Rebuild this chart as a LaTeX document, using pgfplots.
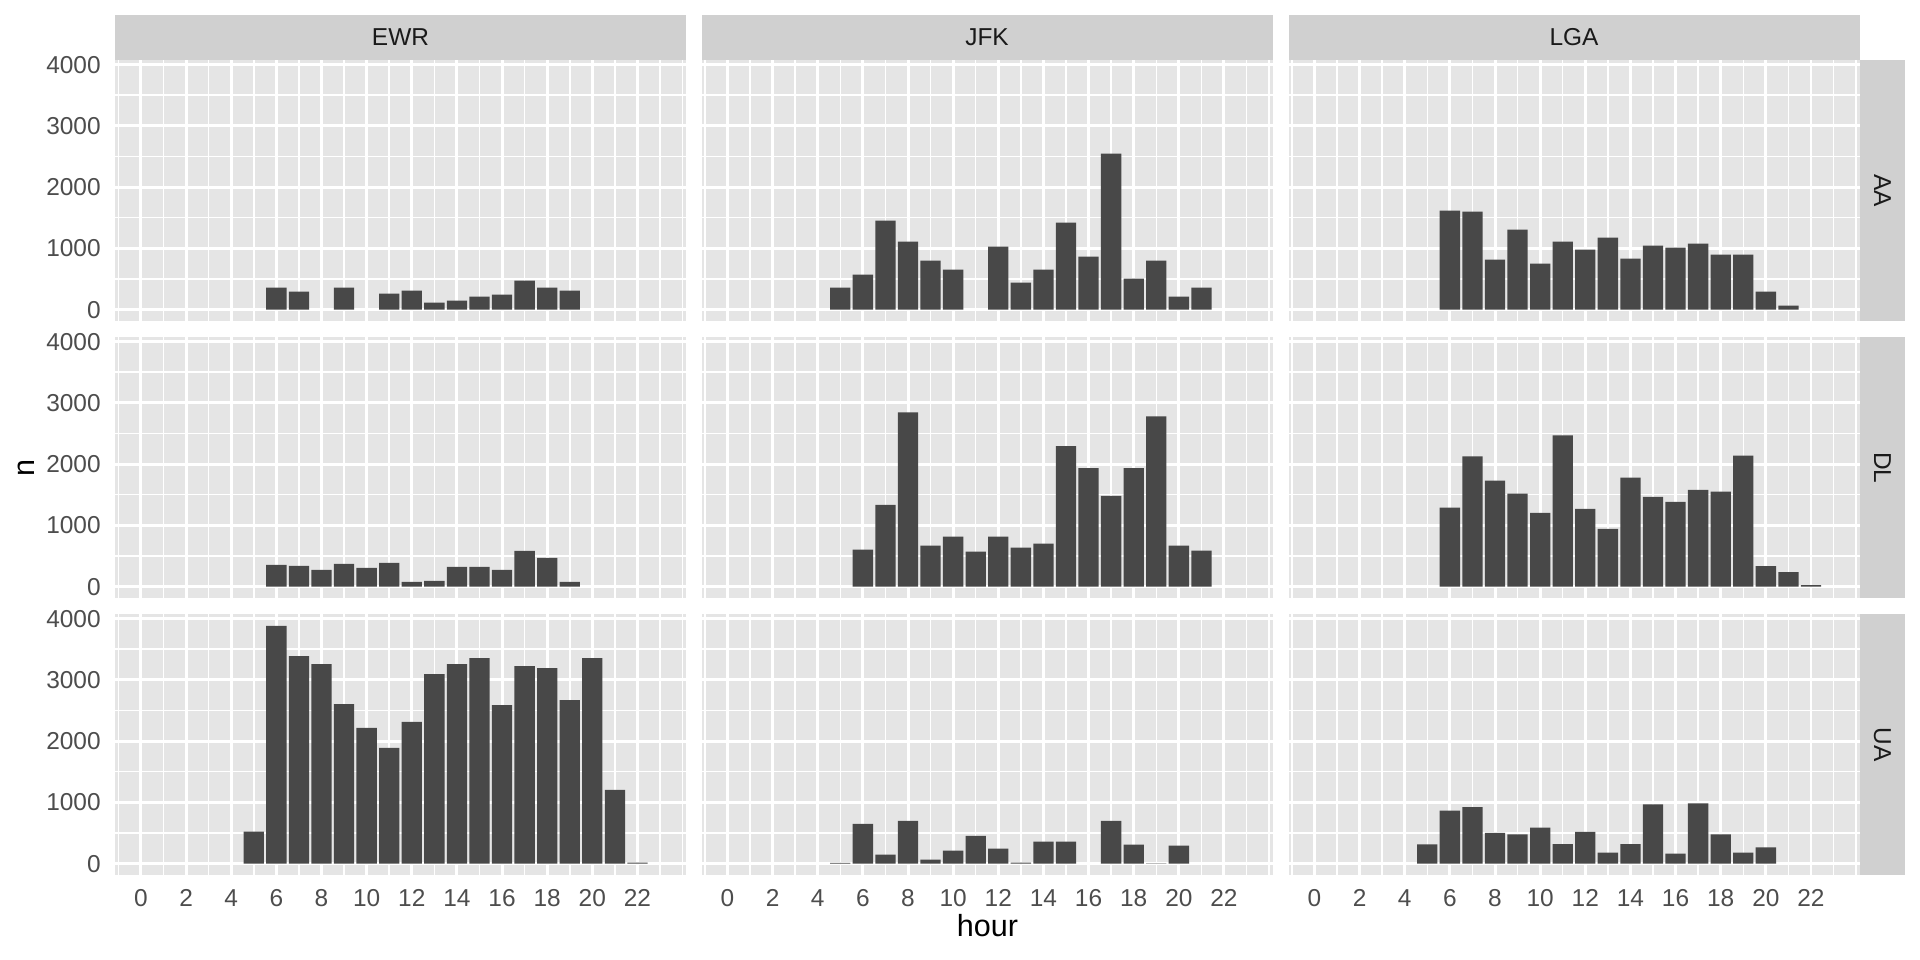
\documentclass[border=0pt]{standalone}
\usepackage{fontspec}
\setmainfont{Liberation Sans}
\usepackage{pgfplots}
\pgfplotsset{compat=1.18}

\definecolor{panelbg}{HTML}{E5E5E5}
\definecolor{stripbg}{HTML}{D0D0D0}
\definecolor{stripfg}{HTML}{1A1A1A}
\definecolor{ticklab}{HTML}{4D4D4D}
\definecolor{tickcol}{HTML}{333333}
\definecolor{barcol}{HTML}{484848}

% one facet panel; 1 px of the 1920x960 reference = 0.36pt
\pgfplotsset{
  panel/.style={
    scale only axis, width=205.56pt, height=94.14pt,
    anchor=south west,
    xmin=-1.15, xmax=24.15, ymin=-194, ymax=4075,
    axis line style={draw=none},
    axis background/.style={fill=panelbg},
    xtick={0,2,4,6,8,10,12,14,16,18,20,22},
    minor xtick={-1,1,3,5,7,9,11,13,15,17,19,21,23,24},
    ytick={0,1000,2000,3000,4000},
    minor ytick={500,1500,2500,3500},
    grid=both,
    major grid style={white, line width=1.07pt},
    minor grid style={white, line width=0.53pt},
    tick align=outside, major tick length=2.75pt, minor tick length=0pt,
    xtick pos=left, ytick pos=left,
    tick style={tickcol, line width=1.07pt},
    xticklabels={}, yticklabels={},
    xtick style={draw=none}, ytick style={draw=none},
    ticklabel style={font=\fontsize{8.8}{10}\selectfont, text=ticklab, inner sep=0pt},
    xticklabel style={anchor=north, yshift=-2.2pt},
    yticklabel style={anchor=east, xshift=-2.2pt},
  },
  xlab/.style={xticklabels={0,2,4,6,8,10,12,14,16,18,20,22},
    xtick style={tickcol, line width=1.07pt}},
  ylab/.style={yticklabels={0,1000,2000,3000,4000},
    ytick style={tickcol, line width=1.07pt}},
  bars/.style={ybar, bar width=0.9, fill=barcol, draw=none},
}

\begin{document}
\begin{tikzpicture}
\path[use as bounding box] (0,0) rectangle (691.2pt,345.6pt);

% ---- row AA ----
\begin{axis}[panel, ylab, at={(41.4pt,229.86pt)}]
\addplot[bars] coordinates {(6,359)(7,294)(9,359)(11,261)(12,310)(13,114)(14,147)(15,212)(16,245)(17,473)(18,359)(19,310)};
\end{axis}
\begin{axis}[panel, at={(252.54pt,229.86pt)}]
\addplot[bars] coordinates {(5,359)(6,571)(7,1453)(8,1110)(9,800)(10,653)(12,1029)(13,441)(14,653)(15,1420)(16,865)(17,2547)(18,506)(19,800)(20,212)(21,359)};
\end{axis}
\begin{axis}[panel, at={(463.86pt,229.86pt)}]
\addplot[bars] coordinates {(6,1616)(7,1600)(8,816)(9,1306)(10,751)(11,1110)(12,980)(13,1176)(14,833)(15,1045)(16,1012)(17,1078)(18,898)(19,898)(20,294)(21,65)};
\end{axis}

% ---- row DL ----
\begin{axis}[panel, ylab, at={(41.4pt,130.14pt)}]
\addplot[bars] coordinates {(6,354)(7,337)(8,272)(9,370)(10,305)(11,386)(12,76)(13,93)(14,321)(15,321)(16,272)(17,582)(18,468)(19,76)};
\end{axis}
\begin{axis}[panel, at={(252.54pt,130.14pt)}]
\addplot[bars] coordinates {(6,605)(7,1335)(8,2843)(9,670)(10,816)(11,573)(12,816)(13,638)(14,703)(15,2292)(16,1935)(17,1481)(18,1935)(19,2778)(20,670)(21,589)};
\end{axis}
\begin{axis}[panel, at={(463.86pt,130.14pt)}]
\addplot[bars] coordinates {(6,1288)(7,2127)(8,1731)(9,1519)(10,1203)(11,2467)(12,1270)(13,942)(14,1780)(15,1464)(16,1385)(17,1580)(18,1549)(19,2139)(20,334)(21,237)(22,24)};
\end{axis}

% ---- row UA ----
\begin{axis}[panel, xlab, ylab, at={(41.4pt,30.42pt)}]
\addplot[bars] coordinates {(5,521)(6,3881)(7,3387)(8,3256)(9,2605)(10,2214)(11,1889)(12,2312)(13,3094)(14,3256)(15,3354)(16,2589)(17,3224)(18,3191)(19,2670)(20,3354)(21,1205)(22,16)};
\end{axis}
\begin{axis}[panel, xlab, at={(252.54pt,30.42pt)}]
\addplot[bars] coordinates {(5,12)(6,649)(7,146)(8,697)(9,65)(10,211)(11,454)(12,243)(13,16)(14,357)(15,357)(17,697)(18,308)(19,4)(20,292)};
\end{axis}
\begin{axis}[panel, xlab, at={(463.86pt,30.42pt)}]
\addplot[bars] coordinates {(5,314)(6,864)(7,924)(8,502)(9,477)(10,586)(11,320)(12,520)(13,181)(14,320)(15,967)(16,163)(17,985)(18,477)(19,181)(20,266)};
\end{axis}

% ---- facet strips ----
\begin{scope}[every node/.style={font=\fontsize{8.8}{10}\selectfont, text=stripfg, inner sep=0pt}]
\foreach \xl/\lab in {41.4/EWR, 252.54/JFK, 463.86/LGA} {
  \fill[stripbg] (\xl pt,324pt) rectangle ++(205.56pt,16.2pt);
  \node at (\xl pt+102.78pt,332.1pt) {\lab};
}
\foreach \yb/\lab in {229.86/AA, 130.14/DL, 30.42/UA} {
  \fill[stripbg] (669.6pt,\yb pt) rectangle ++(16.2pt,94.14pt);
  \node[rotate=-90] at (677.7pt,\yb pt+47.07pt) {\lab};
}
\end{scope}

% ---- axis titles ----
\node[font=\fontsize{11}{13}\selectfont, anchor=base, inner sep=0pt] at (355.5pt,8.6pt) {hour};
\node[font=\fontsize{11}{13}\selectfont, anchor=base, rotate=90, inner sep=0pt] at (12.4pt,177.2pt) {n};
\end{tikzpicture}
\end{document}
